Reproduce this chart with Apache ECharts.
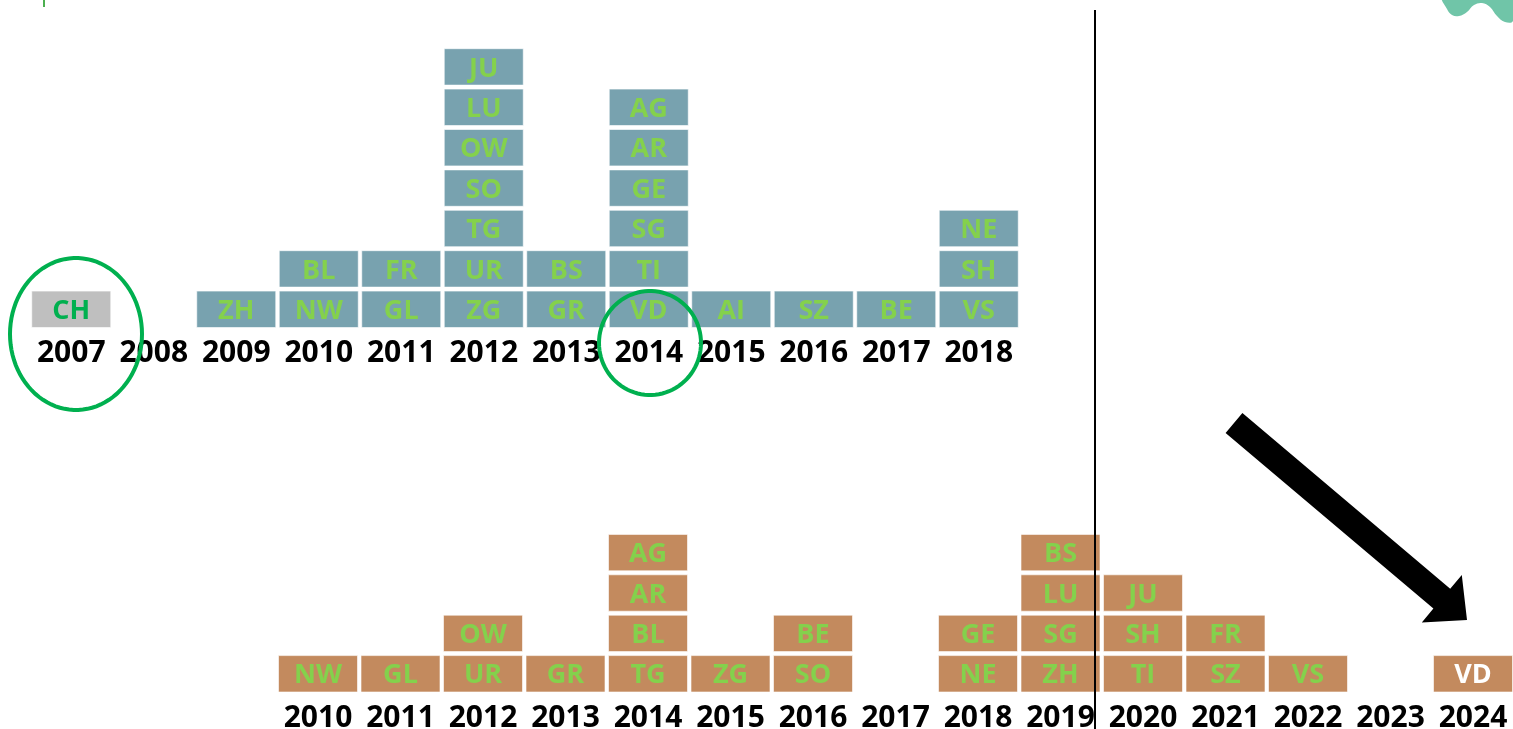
<!DOCTYPE html>
<html>
<head>
<meta charset="utf-8">
<script src="https://cdn.jsdelivr.net/npm/echarts@6/dist/echarts.min.js"></script>
<style>
  html, body { margin: 0; padding: 0; background: #fff; }
  #chart { width: 1513px; height: 729px; }
</style>
</head>
<body>
<div id="chart"></div>
<script>
// years shown under each block
const topYears = ['2007', '2008', '2009', '2010', '2011', '2012', '2013', '2014', '2015', '2016', '2017', '2018'];
const bottomYears = ['2010', '2011', '2012', '2013', '2014', '2015', '2016', '2017', '2018', '2019', '2020', '2021', '2022', '2023', '2024'];

// cantons per year, bottom tile first
const topCantons = [
  ['CH'], [], ['ZH'], ['NW', 'BL'], ['GL', 'FR'],
  ['ZG', 'UR', 'TG', 'SO', 'OW', 'LU', 'JU'],
  ['GR', 'BS'],
  ['VD', 'TI', 'SG', 'GE', 'AR', 'AG'],
  ['AI'], ['SZ'], ['BE'], ['VS', 'SH', 'NE']
];
const bottomCantons = [
  ['NW'], ['GL'], ['UR', 'OW'], ['GR'], ['TG', 'BL', 'AR', 'AG'],
  ['ZG'], ['SO', 'BE'], [], ['NE', 'GE'], ['ZH', 'SG', 'LU', 'BS'],
  ['TI', 'SH', 'JU'], ['SZ', 'FR'], ['VS'], [], ['VD']
];

const toTiles = (stacks) => {
  const out = [];
  stacks.forEach((list, i) => list.forEach((name, lvl) => out.push([i, lvl, name])));
  return out;
};

const topTiles = toTiles(topCantons);
const bottomTiles = toTiles(bottomCantons);

const FONT = '"Open Sans", "DejaVu Sans", sans-serif';

// one tile = one unit of a stacked column
const makeRender = (tiles, fill, textColor, special) => (params, api) => {
  const idx = api.value(0);
  const lvl = api.value(1);
  const name = tiles[params.dataIndex][2];
  const bottom = api.coord([idx, lvl]);
  const top = api.coord([idx, lvl + 1]);
  const w = api.size([1, 0])[0] - 3.5;
  const h = bottom[1] - top[1] - 4;
  const s = special(idx) || {};
  return {
    type: 'group',
    children: [
      {
        type: 'rect',
        shape: { x: bottom[0] - w / 2, y: top[1] + 2, width: w, height: h },
        style: { fill: s.fill || fill, stroke: 'rgba(255,255,255,0.6)', lineWidth: 1 }
      },
      {
        type: 'text',
        style: {
          text: name,
          x: bottom[0],
          y: top[1] + 2 + h / 2 + 2,
          align: 'center',
          verticalAlign: 'middle',
          fill: s.text || textColor,
          font: 'bold 27px ' + FONT
        }
      }
    ]
  };
};

// outline of a highlight ring
const ellipsePoints = (cx, cy, rx, ry) => {
  const pts = [];
  for (let k = 0; k < 90; k++) {
    const a = (k / 90) * Math.PI * 2;
    pts.push([cx + rx * Math.cos(a), cy + ry * Math.sin(a)]);
  }
  return pts;
};

const axisLabel = {
  interval: 0,
  color: '#000',
  fontFamily: FONT,
  fontWeight: 'bold',
  fontSize: 30,
  margin: 9
};

const chart = echarts.init(document.getElementById('chart'));

chart.setOption({
  backgroundColor: '#fff',
  animation: false,
  grid: [
    { left: 30, width: 990, top: 6.3, height: 323.2, outerBoundsMode: 'none' },
    { left: 276.75, width: 1237.5, top: 492, height: 202, outerBoundsMode: 'none' }
  ],
  xAxis: [
    {
      type: 'category', gridIndex: 0, data: topYears,
      axisLine: { show: false }, axisTick: { show: false }, splitLine: { show: false },
      axisLabel: axisLabel
    },
    {
      type: 'category', gridIndex: 1, data: bottomYears,
      axisLine: { show: false }, axisTick: { show: false }, splitLine: { show: false },
      axisLabel: axisLabel
    }
  ],
  yAxis: [
    { type: 'value', gridIndex: 0, min: 0, max: 8, show: false },
    { type: 'value', gridIndex: 1, min: 0, max: 5, show: false }
  ],
  series: [
    {
      type: 'custom',
      xAxisIndex: 0, yAxisIndex: 0,
      data: topTiles,
      encode: { x: 0, y: 1 },
      renderItem: makeRender(topTiles, '#78a2af', '#84d14c', (i) =>
        topYears[i] === '2007' ? { fill: '#bfbfbf', text: '#00b04f' } : null)
    },
    {
      type: 'custom',
      xAxisIndex: 1, yAxisIndex: 1,
      data: bottomTiles,
      encode: { x: 0, y: 1 },
      renderItem: makeRender(bottomTiles, '#c38a5e', '#84d14c', (i) =>
        bottomYears[i] === '2024' ? { text: '#ffffff' } : null)
    }
  ],
  graphic: [
    // small green mark top-left
    { type: 'rect', shape: { x: 43, y: 0, width: 2, height: 7 }, style: { fill: '#4caf50' } },
    // teal shape top-right
    {
      type: 'polygon',
      shape: {
        smooth: 0.4,
        points: [
          [1443, -2], [1447, 9], [1452, 15], [1459, 16], [1467, 12], [1474, 5], [1482, 3],
          [1490, 7], [1497, 16], [1505, 22], [1513, 21], [1515, -2]
        ]
      },
      style: { fill: '#70c5a8' }
    },
    // vertical divider
    { type: 'line', shape: { x1: 1095, y1: 10, x2: 1095, y2: 729 }, style: { stroke: '#000', lineWidth: 2 }, z: 10 },
    // highlight rings
    { type: 'polygon', shape: { points: ellipsePoints(76, 334, 66, 76) }, style: { fill: 'none', stroke: '#00b04f', lineWidth: 4 }, z: 10 },
    { type: 'polygon', shape: { points: ellipsePoints(650, 343, 51, 52) }, style: { fill: 'none', stroke: '#00b04f', lineWidth: 4 }, z: 10 },
    // arrow
    {
      type: 'polygon',
      shape: {
        points: [
          [1242.4, 413.1], [1450.2, 588.8], [1461.8, 575], [1467, 620],
          [1421.8, 622.4], [1433.4, 608.6], [1225.6, 432.9]
        ]
      },
      style: { fill: '#000' },
      z: 10
    }
  ]
});

window.addEventListener('resize', () => chart.resize());
</script>
</body>
</html>
